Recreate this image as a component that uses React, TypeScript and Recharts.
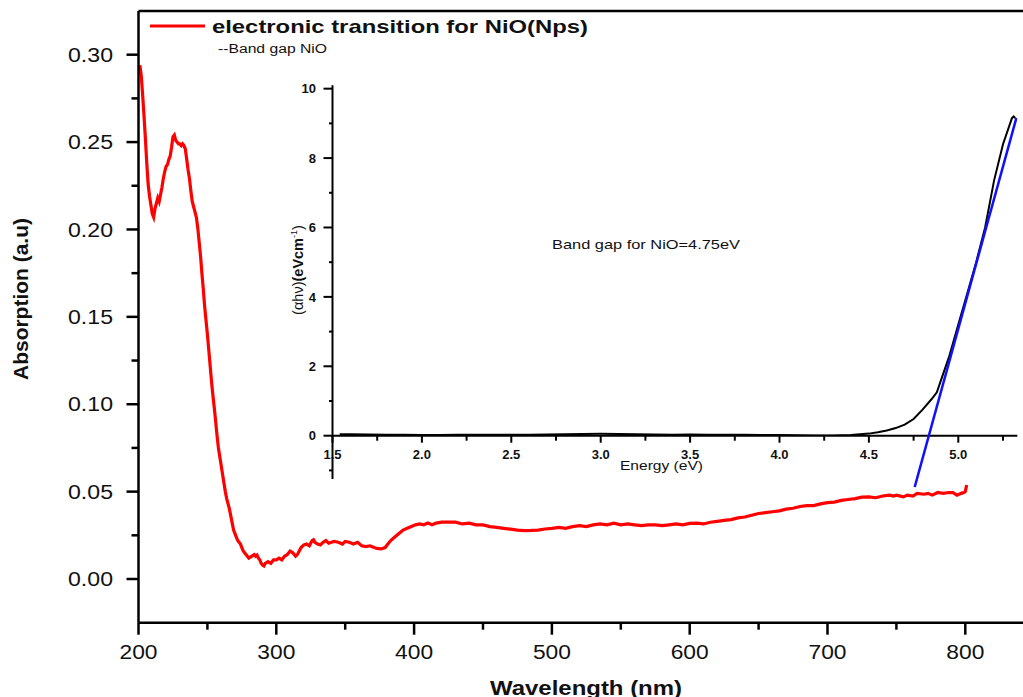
import React from "react";
import { LineChart, Line, XAxis, YAxis, ReferenceLine } from "recharts";

// ---------- Main spectrum (absorption vs wavelength) ----------
const wavelengths = [
  201, 202, 203, 204, 205, 206, 207, 208, 209, 210, 211, 212, 213, 214, 215, 216, 217, 218, 219, 220,
  221, 222, 223, 224, 225, 226, 227, 228, 229, 230, 231, 232, 233, 234, 235, 236, 237, 238, 239, 240,
  241, 242, 243, 244, 245, 246, 247, 248, 249, 250, 251, 252, 253, 254, 255, 256, 257, 258, 259, 260,
  261, 262, 263, 264, 265, 266, 267, 268, 269, 270, 271, 272, 273, 274, 275, 276, 277, 278, 279, 280,
  282, 284, 285, 286, 287, 288, 289, 290, 291, 292, 294, 296, 298, 300, 302, 304, 306, 308, 310, 312,
  314, 315, 316, 318, 320, 322, 324, 326, 327, 328, 330, 332, 334, 336, 338, 340, 342, 345, 348, 350,
  353, 356, 359, 362, 365, 368, 371, 373, 376, 379, 381, 383, 386, 389, 392, 395, 398, 401, 404, 407,
  410, 413, 416, 420, 425, 430, 435, 440, 445, 450, 455, 460, 465, 470, 475, 480, 485, 490, 495, 500,
  505, 510, 515, 520, 525, 530, 535, 540, 545, 550, 555, 560, 565, 570, 575, 580, 585, 590, 595, 600,
  605, 610, 615, 620, 625, 630, 635, 640, 645, 650, 655, 660, 665, 670, 675, 680, 685, 690, 695, 700,
  705, 710, 715, 720, 725, 730, 735, 740, 745, 748, 750, 755, 758, 762, 765, 770, 773, 776, 780, 784,
  788, 791, 794, 797, 799, 800, 801,
];
const absorbance = [
  0.294, 0.288, 0.277, 0.265, 0.252, 0.238, 0.226, 0.219, 0.214, 0.209, 0.207, 0.212, 0.215, 0.218, 0.216, 0.22, 0.224, 0.229, 0.233, 0.236,
  0.237, 0.24, 0.242, 0.247, 0.253, 0.254, 0.251, 0.25, 0.249, 0.249, 0.248, 0.249, 0.248, 0.246, 0.24, 0.234, 0.229, 0.222, 0.216, 0.213,
  0.21, 0.207, 0.201, 0.193, 0.185, 0.175, 0.166, 0.156, 0.148, 0.14, 0.131, 0.122, 0.113, 0.105, 0.098, 0.09, 0.082, 0.075, 0.07, 0.065,
  0.06, 0.055, 0.05, 0.046, 0.043, 0.04, 0.036, 0.032, 0.028, 0.026, 0.024, 0.022, 0.021, 0.02, 0.018, 0.016, 0.015, 0.014, 0.013, 0.012,
  0.013, 0.014, 0.013, 0.0137, 0.012, 0.011, 0.009, 0.008, 0.0075, 0.009, 0.01, 0.009, 0.011, 0.011, 0.012, 0.011, 0.013, 0.014, 0.016, 0.015,
  0.013, 0.0137, 0.015, 0.018, 0.0195, 0.02, 0.019, 0.022, 0.0225, 0.021, 0.02, 0.0195, 0.021, 0.022, 0.0205, 0.021, 0.0215, 0.021, 0.02, 0.0215,
  0.021, 0.02, 0.021, 0.019, 0.0185, 0.019, 0.018, 0.0175, 0.0172, 0.018, 0.02, 0.022, 0.024, 0.026, 0.028, 0.029, 0.03, 0.031, 0.0315, 0.031,
  0.032, 0.031, 0.032, 0.0325, 0.0326, 0.0325, 0.0315, 0.032, 0.031, 0.031, 0.03, 0.0295, 0.029, 0.0285, 0.028, 0.0277, 0.0278, 0.028, 0.0286, 0.029,
  0.0295, 0.029, 0.03, 0.0305, 0.03, 0.031, 0.0315, 0.031, 0.032, 0.031, 0.0315, 0.031, 0.0305, 0.031, 0.031, 0.0305, 0.031, 0.0315, 0.031, 0.0318,
  0.032, 0.0315, 0.0325, 0.033, 0.0335, 0.034, 0.035, 0.0355, 0.0365, 0.0375, 0.038, 0.0385, 0.039, 0.04, 0.0405, 0.0415, 0.042, 0.042, 0.043, 0.0437,
  0.044, 0.045, 0.0455, 0.046, 0.0468, 0.047, 0.0465, 0.0475, 0.048, 0.0475, 0.048, 0.047, 0.048, 0.0475, 0.049, 0.0485, 0.049, 0.048, 0.0495, 0.049,
  0.0495, 0.0494, 0.048, 0.049, 0.0495, 0.05, 0.0538,
];
const mainXTicks = [200, 250, 300, 350, 400, 450, 500, 550, 600, 650, 700, 750, 800, 850];
const mainYTicks = [0, 0.025, 0.05, 0.075, 0.1, 0.125, 0.15, 0.175, 0.2, 0.225, 0.25, 0.275, 0.3];

// ---------- Inset (band gap) ----------
const energies = [
  1.54, 1.6, 1.7, 1.8, 1.9, 2.0, 2.1, 2.2, 2.3, 2.4, 2.5, 2.6, 2.7, 2.8, 2.9, 3.0, 3.1, 3.2, 3.3, 3.4,
  3.5, 3.6, 3.7, 3.8, 3.9, 4.0, 4.1, 4.2, 4.3, 4.4, 4.5, 4.55, 4.6, 4.65, 4.7, 4.75, 4.8, 4.85, 4.88, 4.9,
  4.95, 5.0, 5.05, 5.1, 5.15, 5.2, 5.25, 5.3, 5.31, 5.318,
];
const bandSignal = [
  0.04, 0.04, 0.035, 0.03, 0.025, 0.02, 0.02, 0.025, 0.03, 0.03, 0.025, 0.03, 0.035, 0.04, 0.05, 0.055, 0.05, 0.04, 0.035, 0.03,
  0.035, 0.03, 0.025, 0.03, 0.02, 0.02, 0.01, 0.005, 0.005, 0.02, 0.06, 0.1, 0.15, 0.22, 0.32, 0.48, 0.75, 1.05, 1.25, 1.55,
  2.3, 3.2, 4.1, 5.0, 6.0, 7.35, 8.4, 9.15, 9.2, 9.15,
];
const fitEnergy = [4.756, 5.325];
const fitValue = [-1.48, 9.16];
const insetXTicks = [1.5, 1.75, 2.0, 2.25, 2.5, 2.75, 3.0, 3.25, 3.5, 3.75, 4.0, 4.25, 4.5, 4.75, 5.0, 5.25];
const insetYTicks = [-1, 0, 1, 2, 3, 4, 5, 6, 7, 8, 9, 10];

const mainData = wavelengths.map((w, i) => ({ nm: w, abs: absorbance[i] }));
const bandData = energies.map((e, i) => ({ ev: e, sig: bandSignal[i] }));
const fitData = fitEnergy.map((e, i) => ({ ev: e, fit: fitValue[i] }));

const FONT = "'Liberation Sans', Arial, sans-serif";

const MainXTick = (props: any) => {
  const { x, y, payload } = props;
  const v = payload.value;
  const major = v % 100 === 0;
  return (
    <g>
      <line x1={x} x2={x} y1={y} y2={y + (major ? 12 : 7)} stroke="#000" strokeWidth={2.5} />
      {major && v <= 800 && (
        <text x={x} y={y + 36.6} textAnchor="middle" fontSize={20} fontFamily={FONT} fill="#111"
          textLength={38} lengthAdjust="spacingAndGlyphs">{v}</text>
      )}
    </g>
  );
};

const MainYTick = (props: any) => {
  const { x, y, payload } = props;
  const v = payload.value;
  const major = Math.round(v * 1000) % 50 === 0;
  return (
    <g>
      <line x1={x} x2={x - (major ? 12 : 7)} y1={y} y2={y} stroke="#000" strokeWidth={2.5} />
      {major && (
        <text x={x - 25.5} y={y + 7.2} textAnchor="end" fontSize={20} fontFamily={FONT} fill="#111"
          textLength={45} lengthAdjust="spacingAndGlyphs">{v.toFixed(2)}</text>
      )}
    </g>
  );
};

const InsetXTick = (props: any) => {
  const { x, y, payload } = props;
  const v = payload.value;
  const major = Math.round(v * 100) % 50 === 0;
  return (
    <g>
      <line x1={x} x2={x} y1={y} y2={y + (major ? 7 : 5)} stroke="#000" strokeWidth={2} />
      {major && (
        <text x={x} y={y + 23.7} textAnchor="middle" fontSize={13} fontWeight="bold" fontFamily={FONT} fill="#111">
          {v.toFixed(1)}
        </text>
      )}
    </g>
  );
};

const InsetYTick = (props: any) => {
  const { x, y, payload } = props;
  const v = payload.value;
  const major = v % 2 === 0;
  return (
    <g>
      <line x1={x} x2={x - (major ? 9 : 3.5)} y1={y} y2={y} stroke="#000" strokeWidth={2} />
      {major && (
        <text x={x - 16.5} y={y + 4.7} textAnchor="end" fontSize={13} fontWeight="bold" fontFamily={FONT} fill="#111">
          {v}
        </text>
      )}
    </g>
  );
};

const W = 1060;
const H = 697;

export default function App() {
  return (
    <div style={{ position: "absolute", left: 0, top: 0, width: 1023, height: 697, overflow: "hidden", background: "#fff" }}>
      {/* Main chart */}
      <div style={{ position: "absolute", left: 0, top: 0 }}>
        <LineChart width={W} height={H} data={mainData} margin={{ top: 11, left: 78.5, right: 25.8, bottom: 34.3 }}>
          <XAxis dataKey="nm" type="number" domain={[200, 850]} ticks={mainXTicks} interval={0}
            height={40} tickSize={0} tickMargin={0} tickLine={false} tick={<MainXTick />}
            axisLine={{ stroke: "#000", strokeWidth: 2.5 }} allowDataOverflow />
          <YAxis type="number" domain={[-0.025, 0.325]} ticks={mainYTicks} interval={0}
            width={60} tickSize={0} tickMargin={0} tickLine={false} tick={<MainYTick />}
            axisLine={{ stroke: "#000", strokeWidth: 2.5 }} allowDataOverflow />
          <ReferenceLine y={0.325} stroke="#000" strokeWidth={2.5} ifOverflow="visible" />
          <Line dataKey="abs" type="linear" stroke="#ff0000" strokeWidth={3.2} dot={false} isAnimationActive={false} />
        </LineChart>
      </div>

      {/* Inset: x axis at zero + black curve */}
      <div style={{ position: "absolute", left: 0, top: 0 }}>
        <LineChart width={W} height={H} data={bandData} margin={{ top: 85.2, left: 332.5, right: 42.7, bottom: 221.3 }}>
          <XAxis dataKey="ev" type="number" domain={[1.5, 5.33]} ticks={insetXTicks} interval={0}
            height={40} tickSize={0} tickMargin={0} tickLine={false} tick={<InsetXTick />}
            axisLine={{ stroke: "#000", strokeWidth: 2 }} allowDataOverflow />
          <YAxis type="number" domain={[0, 10.1]} hide width={0} allowDataOverflow />
          <Line dataKey="sig" type="linear" stroke="#000" strokeWidth={2} dot={false} isAnimationActive={false} />
        </LineChart>
      </div>

      {/* Inset: y axis + linear fit */}
      <div style={{ position: "absolute", left: 0, top: 0 }}>
        <LineChart width={W} height={H} data={fitData} margin={{ top: 85.2, left: 292.5, right: 42.7, bottom: 209.25 }}>
          <XAxis dataKey="ev" type="number" domain={[1.5, 5.33]} hide height={0} allowDataOverflow />
          <YAxis type="number" domain={[-1.5, 10.1]} ticks={insetYTicks} interval={0}
            width={40} tickSize={0} tickMargin={0} tickLine={false} tick={<InsetYTick />}
            axisLine={false} allowDataOverflow />
          <ReferenceLine segment={[{ x: 1.5, y: -1.25 }, { x: 1.5, y: 10.1 }]} stroke="#000" strokeWidth={2} ifOverflow="visible" />
          <Line dataKey="fit" type="linear" stroke="#1010ff" strokeWidth={2.5} dot={false} isAnimationActive={false} />
        </LineChart>
      </div>

      {/* Text annotations */}
      <svg width={1023} height={697} style={{ position: "absolute", left: 0, top: 0, pointerEvents: "none" }}>
        <line x1={150} x2={205} y1={26} y2={26} stroke="#ff0000" strokeWidth={3} />
        <text x={212} y={33} fontSize={19} fontWeight="bold" fontFamily={FONT} fill="#111"
          textLength={376} lengthAdjust="spacingAndGlyphs">electronic transition for NiO(Nps)</text>
        <text x={218} y={52.5} fontSize={12} fontFamily={FONT} fill="#111"
          textLength={109} lengthAdjust="spacingAndGlyphs">--Band gap NiO</text>
        <text x={552} y={248.5} fontSize={13} fontFamily={FONT} fill="#111"
          textLength={188} lengthAdjust="spacingAndGlyphs">Band gap for NiO=4.75eV</text>
        <text x={620} y={470} fontSize={13} fontFamily={FONT} fill="#111"
          textLength={83} lengthAdjust="spacingAndGlyphs">Energy (eV)</text>
        <text transform="translate(28,299) rotate(-90)" textAnchor="middle" fontSize={20} fontWeight="bold"
          fontFamily={FONT} fill="#111" textLength={162} lengthAdjust="spacingAndGlyphs">Absorption (a.u)</text>
        <text x={586} y={695} textAnchor="middle" fontSize={20} fontWeight="bold" fontFamily={FONT} fill="#111"
          textLength={192} lengthAdjust="spacingAndGlyphs">Wavelength (nm)</text>
        <text transform="translate(303,270) rotate(-90)" textAnchor="middle" fontSize={14.5} fontFamily={FONT} fill="#111">
          <tspan>(αhν)</tspan>
          <tspan fontWeight="bold">(eVcm</tspan>
          <tspan fontSize={9} dy={-6}>-1</tspan>
          <tspan dy={6}>)</tspan>
        </text>
      </svg>
    </div>
  );
}
